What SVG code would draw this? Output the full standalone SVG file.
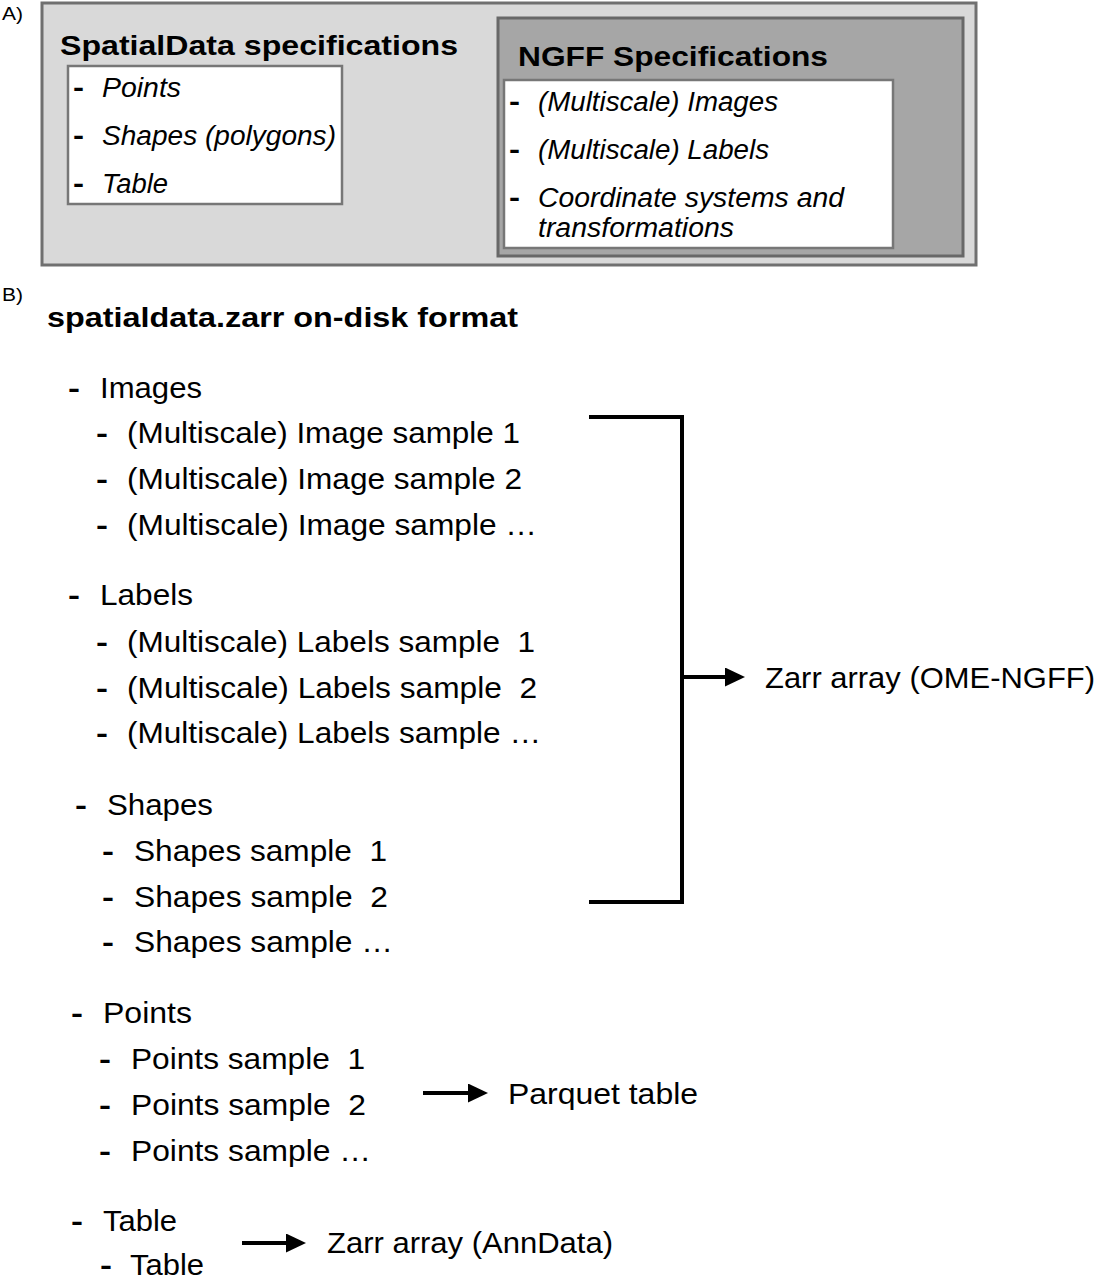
<svg xmlns="http://www.w3.org/2000/svg" width="1098" height="1280" viewBox="0 0 1098 1280">
<style>
text{font-family:"Liberation Sans",Arial,Helvetica,sans-serif;fill:#000;}
.lab{font-size:19px;}
.h{font-size:28px;font-weight:bold;}
.it{font-size:27px;font-style:italic;}
.t{font-size:29px;}
.d{font-size:28px;font-weight:bold;}
.box{fill:#fff;stroke:#777;stroke-width:2.5;}
.conn{fill:none;stroke:#000;stroke-width:4;}
</style>
<defs>
<marker id="ah" markerUnits="userSpaceOnUse" viewBox="0 0 20 19" markerWidth="20" markerHeight="19" refX="2" refY="9.5" orient="auto">
<path d="M0,0 L20,9.5 L0,19 z" fill="#000"/>
</marker>
</defs>
<rect width="1098" height="1280" fill="#fff"/>

<text class="lab" x="2" y="20" textLength="21" lengthAdjust="spacingAndGlyphs">A)</text>
<g id="panelA">
<rect x="42" y="3" width="934" height="262" fill="#d9d9d9" stroke="#707070" stroke-width="3"/>
<g id="spatialdata-spec">
<text class="h" x="60" y="55" textLength="398" lengthAdjust="spacingAndGlyphs">SpatialData specifications</text>
<rect class="box" x="68" y="66" width="274" height="138"/>
<text class="d" x="73" y="97" textLength="11" lengthAdjust="spacingAndGlyphs">-</text>
<text class="it" x="102" y="97" textLength="79" lengthAdjust="spacingAndGlyphs">Points</text>
<text class="d" x="73" y="145" textLength="11" lengthAdjust="spacingAndGlyphs">-</text>
<text class="it" x="102" y="145" textLength="234" lengthAdjust="spacingAndGlyphs">Shapes (polygons)</text>
<text class="d" x="73" y="193" textLength="11" lengthAdjust="spacingAndGlyphs">-</text>
<text class="it" x="102" y="193" textLength="66" lengthAdjust="spacingAndGlyphs">Table</text>
</g>
<g id="ngff-spec">
<rect x="498" y="18" width="465" height="238" fill="#a6a6a6" stroke="#686868" stroke-width="3"/>
<text class="h" x="518" y="66" textLength="310" lengthAdjust="spacingAndGlyphs">NGFF Specifications</text>
<rect class="box" x="504" y="80" width="389" height="168"/>
<text class="d" x="509" y="111" textLength="11" lengthAdjust="spacingAndGlyphs">-</text>
<text class="it" x="538" y="111" textLength="240" lengthAdjust="spacingAndGlyphs">(Multiscale) Images</text>
<text class="d" x="509" y="159" textLength="11" lengthAdjust="spacingAndGlyphs">-</text>
<text class="it" x="538" y="159" textLength="231" lengthAdjust="spacingAndGlyphs">(Multiscale) Labels</text>
<text class="d" x="509" y="207" textLength="11" lengthAdjust="spacingAndGlyphs">-</text>
<text class="it" x="538" y="207" textLength="306" lengthAdjust="spacingAndGlyphs">Coordinate systems and</text>
<text class="it" x="538" y="237" textLength="196" lengthAdjust="spacingAndGlyphs">transformations</text>
</g>
</g>

<text class="lab" x="2" y="301" textLength="21" lengthAdjust="spacingAndGlyphs">B)</text>
<g id="panelB">
<text class="h" x="47" y="327" textLength="471" lengthAdjust="spacingAndGlyphs">spatialdata.zarr on-disk format</text>
<g id="images">
<text class="d" x="68" y="398" textLength="12" lengthAdjust="spacingAndGlyphs">-</text>
<text class="t" x="100" y="398" textLength="102" lengthAdjust="spacingAndGlyphs">Images</text>
<text class="d" x="96" y="443" textLength="12" lengthAdjust="spacingAndGlyphs">-</text>
<text class="t" x="127" y="443" textLength="393" lengthAdjust="spacingAndGlyphs">(Multiscale) Image sample 1</text>
<text class="d" x="96" y="489" textLength="12" lengthAdjust="spacingAndGlyphs">-</text>
<text class="t" x="127" y="489" textLength="395" lengthAdjust="spacingAndGlyphs">(Multiscale) Image sample 2</text>
<text class="d" x="96" y="535" textLength="12" lengthAdjust="spacingAndGlyphs">-</text>
<text class="t" x="127" y="535" textLength="410" lengthAdjust="spacingAndGlyphs">(Multiscale) Image sample …</text>
</g>
<g id="labels">
<text class="d" x="68" y="605" textLength="12" lengthAdjust="spacingAndGlyphs">-</text>
<text class="t" x="100" y="605" textLength="93" lengthAdjust="spacingAndGlyphs">Labels</text>
<text class="d" x="96" y="652" textLength="12" lengthAdjust="spacingAndGlyphs">-</text>
<text class="t" x="127" y="652" textLength="408" lengthAdjust="spacingAndGlyphs" xml:space="preserve">(Multiscale) Labels sample  1</text>
<text class="d" x="96" y="698" textLength="12" lengthAdjust="spacingAndGlyphs">-</text>
<text class="t" x="127" y="698" textLength="410" lengthAdjust="spacingAndGlyphs" xml:space="preserve">(Multiscale) Labels sample  2</text>
<text class="d" x="96" y="743" textLength="12" lengthAdjust="spacingAndGlyphs">-</text>
<text class="t" x="127" y="743" textLength="414" lengthAdjust="spacingAndGlyphs">(Multiscale) Labels sample …</text>
</g>
<g id="shapes">
<text class="d" x="75" y="815" textLength="12" lengthAdjust="spacingAndGlyphs">-</text>
<text class="t" x="107" y="815" textLength="106" lengthAdjust="spacingAndGlyphs">Shapes</text>
<text class="d" x="102" y="861" textLength="12" lengthAdjust="spacingAndGlyphs">-</text>
<text class="t" x="134" y="861" textLength="253" lengthAdjust="spacingAndGlyphs" xml:space="preserve">Shapes sample  1</text>
<text class="d" x="102" y="907" textLength="12" lengthAdjust="spacingAndGlyphs">-</text>
<text class="t" x="134" y="907" textLength="254" lengthAdjust="spacingAndGlyphs" xml:space="preserve">Shapes sample  2</text>
<text class="d" x="102" y="952" textLength="12" lengthAdjust="spacingAndGlyphs">-</text>
<text class="t" x="134" y="952" textLength="259" lengthAdjust="spacingAndGlyphs">Shapes sample …</text>
</g>
<g id="points">
<text class="d" x="71" y="1023" textLength="12" lengthAdjust="spacingAndGlyphs">-</text>
<text class="t" x="103" y="1023" textLength="89" lengthAdjust="spacingAndGlyphs">Points</text>
<text class="d" x="99" y="1069" textLength="12" lengthAdjust="spacingAndGlyphs">-</text>
<text class="t" x="131" y="1069" textLength="234" lengthAdjust="spacingAndGlyphs" xml:space="preserve">Points sample  1</text>
<text class="d" x="99" y="1115" textLength="12" lengthAdjust="spacingAndGlyphs">-</text>
<text class="t" x="131" y="1115" textLength="235" lengthAdjust="spacingAndGlyphs" xml:space="preserve">Points sample  2</text>
<text class="d" x="99" y="1161" textLength="12" lengthAdjust="spacingAndGlyphs">-</text>
<text class="t" x="131" y="1161" textLength="240" lengthAdjust="spacingAndGlyphs">Points sample …</text>
</g>
<g id="table">
<text class="d" x="71" y="1231" textLength="12" lengthAdjust="spacingAndGlyphs">-</text>
<text class="t" x="103" y="1231" textLength="74" lengthAdjust="spacingAndGlyphs">Table</text>
<text class="d" x="100" y="1275" textLength="12" lengthAdjust="spacingAndGlyphs">-</text>
<text class="t" x="130" y="1275" textLength="74" lengthAdjust="spacingAndGlyphs">Table</text>
</g>
<g id="ome-ngff">
<text class="t" x="765" y="688" textLength="330" lengthAdjust="spacingAndGlyphs">Zarr array (OME-NGFF)</text>
</g>
<g id="parquet">
<text class="t" x="508" y="1104" textLength="190" lengthAdjust="spacingAndGlyphs">Parquet table</text>
</g>
<g id="anndata">
<text class="t" x="327" y="1253" textLength="286" lengthAdjust="spacingAndGlyphs">Zarr array (AnnData)</text>
</g>
</g>

<g id="connectors">
<path class="conn" d="M589,417 H682 V902 H589"/>
<line class="conn" x1="682" y1="677" x2="727" y2="677" marker-end="url(#ah)"/>
<line class="conn" x1="423" y1="1093" x2="470" y2="1093" marker-end="url(#ah)"/>
<line class="conn" x1="242" y1="1243" x2="288" y2="1243" marker-end="url(#ah)"/>
</g>
</svg>
